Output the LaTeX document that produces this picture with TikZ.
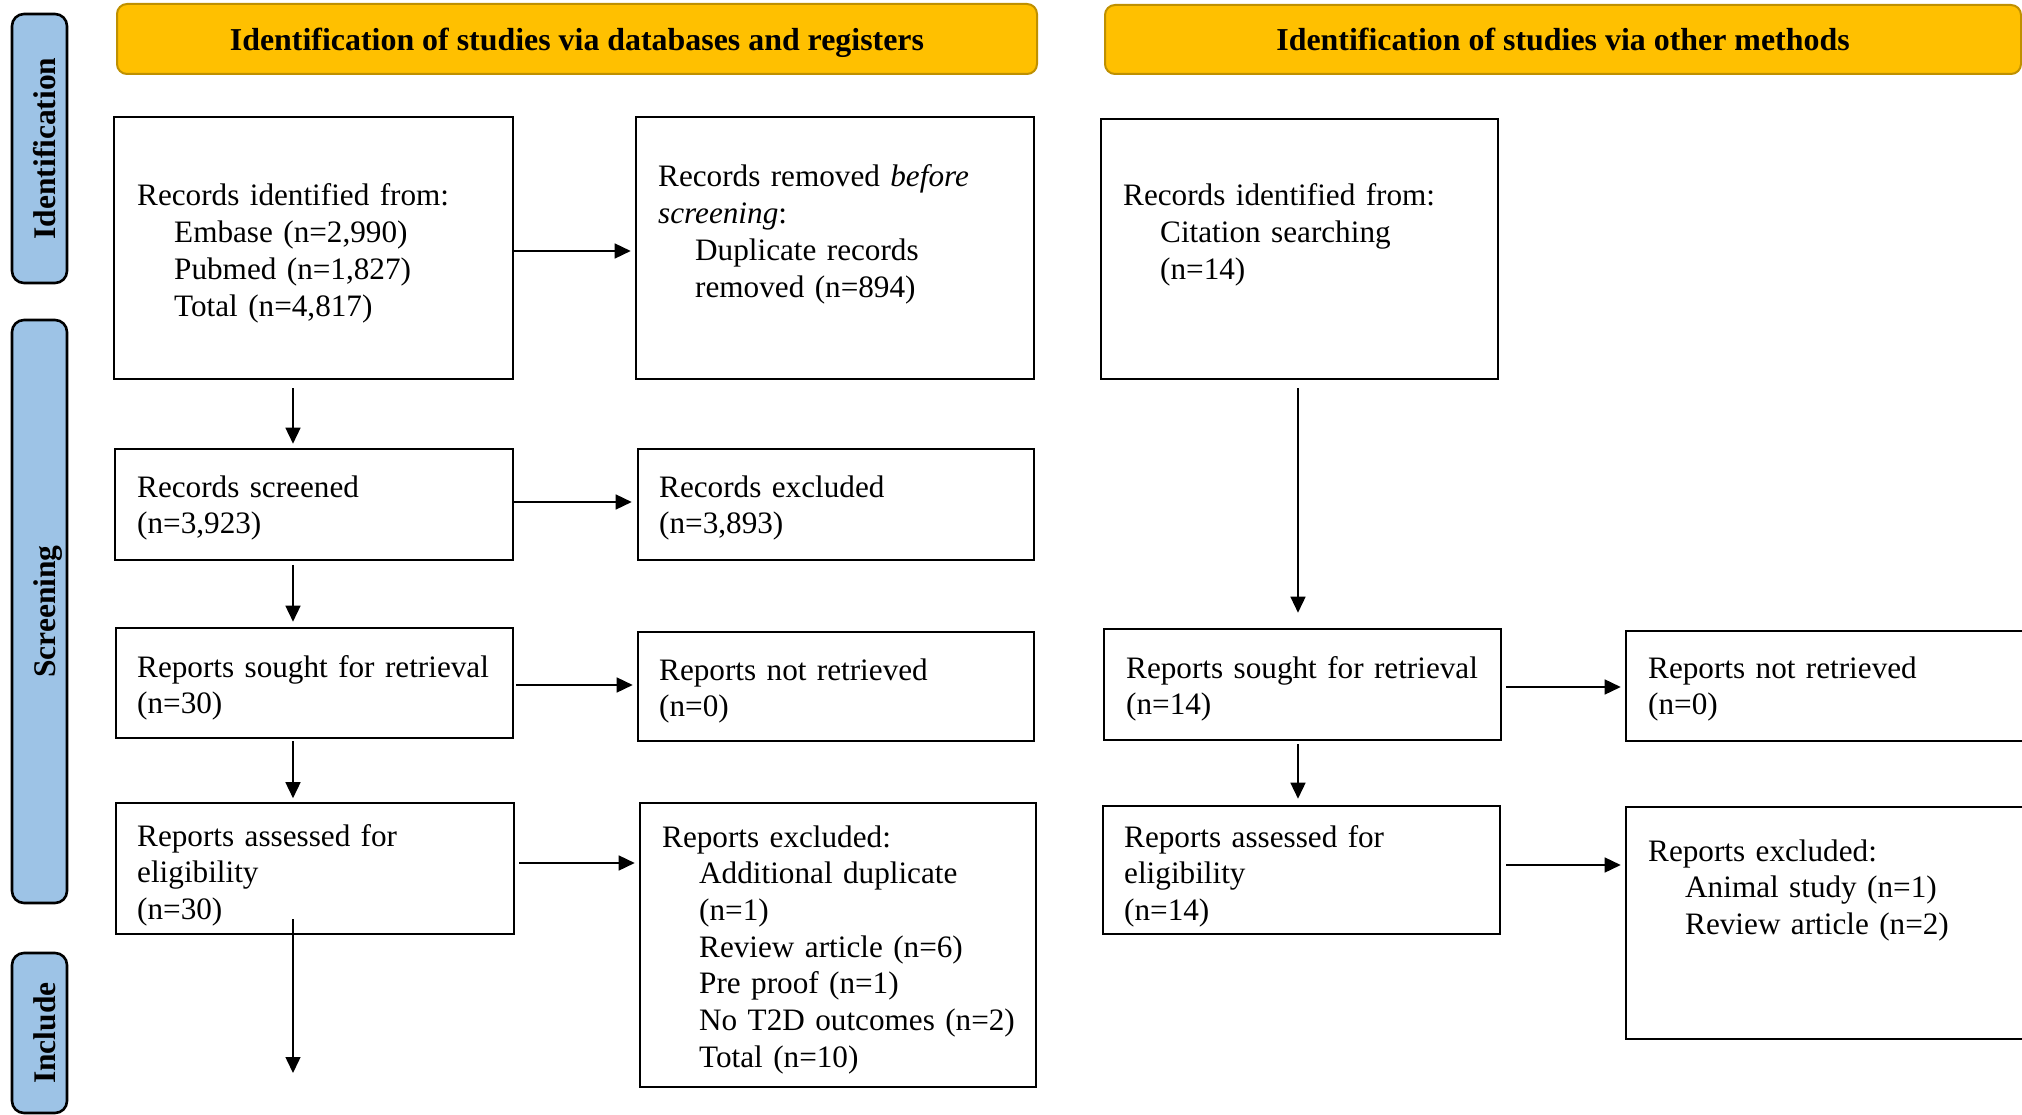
\documentclass[tikz,border=0pt]{standalone}
\usepackage{fontspec}
\setmainfont{Liberation Serif}
\usetikzlibrary{fit,arrows.meta}
\definecolor{hdrfill}{HTML}{FFC000}
\definecolor{hdrline}{HTML}{BF9000}
\definecolor{sidefill}{HTML}{9DC3E6}
\tikzset{
  box/.style={draw=black, line width=2.6pt, inner sep=0pt, fill=white},
  hdr/.style={draw=hdrline, line width=2pt, fill=hdrfill, rounded corners=10pt, inner sep=0pt},
  side/.style={draw=black, line width=2.6pt, fill=sidefill, rounded corners=12pt, inner sep=0pt},
  txt/.style={inner sep=0pt, text width=400pt, align=left, anchor=base west,
    font=\fontsize{31.2pt}{36.7pt}\selectfont},
  hdrtxt/.style={inner sep=0pt, anchor=base, font=\fontsize{31.9pt}{36pt}\selectfont\bfseries},
  sidetxt/.style={inner sep=0pt, anchor=base, rotate=90, font=\fontsize{31.5pt}{36pt}\selectfont\bfseries},
  arr/.style={line width=1.5pt, -{Triangle[length=16pt,width=15pt]}}
}
\newcommand\ind{\hspace*{37pt}}
\begin{document}
\begin{tikzpicture}[x=1pt,y=-1pt]
\useasboundingbox (0,0) rectangle (2022,1115);
% headers
\node[hdr, fit={(117,4) (1037,74)}] (h1) {};
\node[hdrtxt] (h1t) at (577,51) {Identification of studies via databases and registers};
\node[hdr, fit={(1105,5) (2021,74)}] (h2) {};
\node[hdrtxt] (h2t) at (1563,51) {Identification of studies via other methods};
% side bars
\node[side, fit={(12,14) (67,283)}] (s1) {};
\node[sidetxt] (s1t) at (55,148.5) {Identification};
\node[side, fit={(12,320) (67,903)}] (s2) {};
\node[sidetxt] (s2t) at (55,611.5) {Screening};
\node[side, fit={(12,953) (67,1113)}] (s3) {};
\node[sidetxt] (s3t) at (55,1033) {Include};
% boxes
\node[box, fit={(114,117) (513,379)}] (b1) {};
\node[box, fit={(636,117) (1034,379)}] (b2) {};
\node[box, fit={(1101,119) (1498,379)}] (b3) {};
\node[box, fit={(115,449) (513,560)}] (b4) {};
\node[box, fit={(638,449) (1034,560)}] (b5) {};
\node[box, fit={(116,628) (513,738)}] (b6) {};
\node[box, fit={(638,632) (1034,741)}] (b7) {};
\node[box, fit={(116,803) (514,934)}] (b8) {};
\node[box, fit={(640,803) (1036,1087)}] (b9) {};
\node[box, fit={(1104,629) (1501,740)}] (b10) {};
\node[box, fit={(1626,631) (2040,741)}] (b11) {};
\node[box, fit={(1103,806) (1500,934)}] (b12) {};
\node[box, fit={(1626,807) (2040,1039)}] (b13) {};
% texts
\node[txt] (t1) at (137,206) {Records identified from:\\\ind Embase (n=2,990)\\\ind Pubmed (n=1,827)\\\ind Total (n=4,817)};
\node[txt] (t2) at (658,187) {Records removed \textit{before}\\\textit{screening}:\\\ind Duplicate records\\\ind removed (n=894)};
\node[txt] (t3) at (1123,206) {Records identified from:\\\ind Citation searching\\\ind (n=14)};
\node[txt] (t4) at (137,497) {Records screened\\(n=3,923)};
\node[txt] (t5) at (659,497) {Records excluded\\(n=3,893)};
\node[txt] (t6) at (137,677) {Reports sought for retrieval\\(n=30)};
\node[txt] (t7) at (659,680) {Reports not retrieved\\(n=0)};
\node[txt] (t8) at (137,846) {Reports assessed for\\eligibility\\(n=30)};
\node[txt] (t9) at (662,847) {Reports excluded:\\\ind Additional duplicate\\\ind (n=1)\\\ind Review article (n=6)\\\ind Pre proof (n=1)\\\ind No T2D outcomes (n=2)\\\ind Total (n=10)};
\node[txt] (t10) at (1126,678) {Reports sought for retrieval\\(n=14)};
\node[txt] (t11) at (1648,678) {Reports not retrieved\\(n=0)};
\node[txt] (t12) at (1124,847) {Reports assessed for\\eligibility\\(n=14)};
\node[txt] (t13) at (1648,861) {Reports excluded:\\\ind Animal study (n=1)\\\ind Review article (n=2)};
% arrow guide coordinates
\coordinate (xl) at (293,0);
\coordinate (xr) at (1298,0);
\coordinate (yh1) at (0,251);
\coordinate (yh2) at (0,502);
\coordinate (yh3) at (0,685);
\coordinate (yh4) at (0,863);
\coordinate (yh5) at (0,687);
\coordinate (yh6) at (0,865);
\coordinate (end4) at (293,1073);
% vertical arrows
\draw[arr, shorten <=8pt, shorten >=4pt] (b1.south -| xl) -- (b4.north -| xl);
\draw[arr, shorten <=3.5pt, shorten >=5pt] (b4.south -| xl) -- (b6.north -| xl);
\draw[arr, shorten <=2pt, shorten >=3.5pt] (b6.south -| xl) -- (b8.north -| xl);
\draw[arr, shorten <=-16pt] (b8.south -| xl) -- (end4);
\draw[arr, shorten <=8pt, shorten >=15pt] (b3.south -| xr) -- (b10.north -| xr);
\draw[arr, shorten <=3pt, shorten >=6pt] (b10.south -| xr) -- (b12.north -| xr);
% horizontal arrows
\draw[arr, shorten >=4pt] (b1.east |- yh1) -- (b2.west |- yh1);
\draw[arr, shorten >=5pt] (b4.east |- yh2) -- (b5.west |- yh2);
\draw[arr, shorten <=1.5pt, shorten >=4pt] (b6.east |- yh3) -- (b7.west |- yh3);
\draw[arr, shorten <=4pt, shorten >=4pt] (b8.east |- yh4) -- (b9.west |- yh4);
\draw[arr, shorten <=4pt, shorten >=4pt] (b10.east |- yh5) -- (b11.west |- yh5);
\draw[arr, shorten <=5pt, shorten >=4pt] (b12.east |- yh6) -- (b13.west |- yh6);
\end{tikzpicture}
\end{document}
